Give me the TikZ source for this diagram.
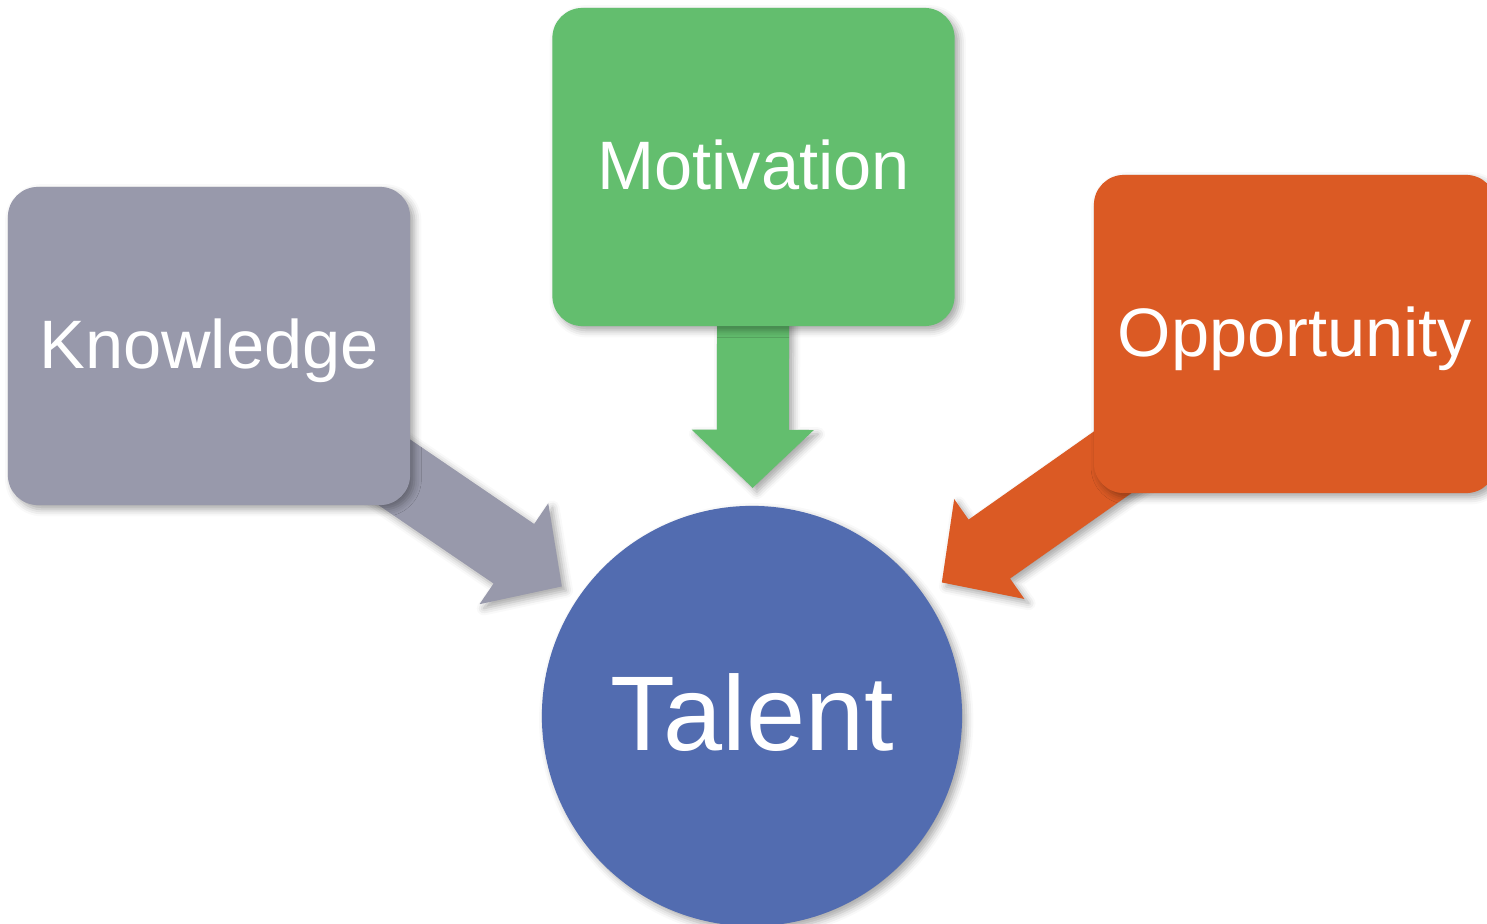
\documentclass[tikz,border=0pt]{standalone}
\usepackage{fontspec}
\setmainfont{Liberation Sans}
\usetikzlibrary{calc,shadows.blur}

\definecolor{knowgray}{HTML}{9899AB}
\definecolor{motgreen}{HTML}{63BE6E}
\definecolor{oppred}{HTML}{DB5A24}
\definecolor{talblue}{HTML}{526CB0}

\pgfdeclarelayer{background}
\pgfsetlayers{background,main}

\newcommand{\fatarrow}[3]{%
  \coordinate (h) at ($(#3)!0.58cm!(#2)$);
  \fill[#1,softshadow]
    ($(#2)!0.36cm!90:(h)$) -- ($(h)!0.36cm!-90:(#2)$)
    -- ($(h)!0.61cm!-90:(#2)$) -- (#3) -- ($(h)!0.61cm!90:(#2)$)
    -- ($(h)!0.36cm!90:(#2)$) -- ($(#2)!0.36cm!-90:(h)$) -- cycle;
}

\begin{document}
\begin{tikzpicture}[x=0.01cm,y=-0.01cm,
    softshadow/.style={blur shadow={shadow xshift=1.2pt,shadow yshift=-1.2pt,
        shadow blur radius=2pt,shadow opacity=35}},
    box/.style={rectangle,rounded corners=0.3cm,minimum width=4.02cm,
        minimum height=3.18cm,inner sep=0pt,text=white,softshadow,
        text height=14pt,text depth=1.2pt,
        font=\fontsize{19.5}{23}\selectfont},
    hub/.style={circle,fill=talblue,minimum size=4.2cm,inner sep=0pt,
        text=white,softshadow,text height=21.6pt,text depth=2pt,
        font=\fontsize{30.2}{36}\selectfont}]
  \useasboundingbox (0,0) rectangle (1487,924);

  \node[box,fill=knowgray] (know) at (209,346) {Knowledge};
  \node[box,fill=motgreen] (motiv) at (753.5,167) {Motivation};
  \node[box,fill=oppred] (oppor) at (1295,334) {Opportunity};
  \node[hub] (talent) at (752,716) {Talent};

  \coordinate (ktip) at ($(talent.center)!2.3cm!(know.center)$);
  \coordinate (mtip) at ($(talent.center)!2.28cm!(motiv.center)$);
  \coordinate (otip) at ($(talent.center)!2.32cm!(oppor.center)$);

  \begin{pgfonlayer}{background}
    \fatarrow{knowgray}{know.center}{ktip}
    \fatarrow{motgreen}{motiv.center}{mtip}
    \fatarrow{oppred}{oppor.center}{otip}
  \end{pgfonlayer}
\end{tikzpicture}
\end{document}
